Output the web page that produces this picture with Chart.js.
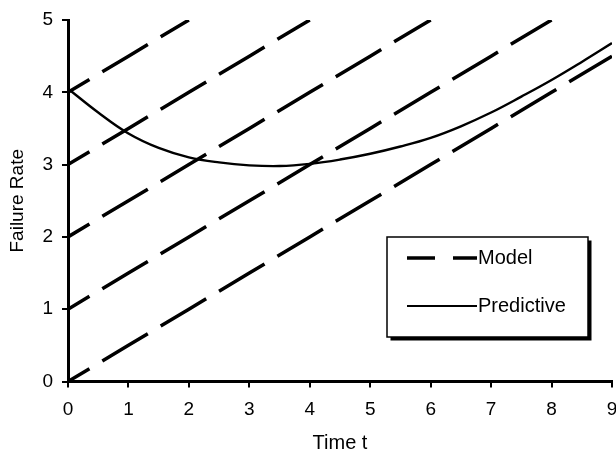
<!DOCTYPE html>
<html>
<head>
<meta charset="utf-8">
<script src="https://cdn.jsdelivr.net/npm/chart.js@4"></script>
<style>
  html, body { margin: 0; padding: 0; background: #fff; }
  #wrap { width: 616px; height: 457px; }
</style>
</head>
<body>
<div id="wrap"><canvas id="c" width="616" height="457"></canvas></div>
<script>
// Time axis and tick labels
const timeTicks = [0, 1, 2, 3, 4, 5, 6, 7, 8, 9];
const rateTicks = [0, 1, 2, 3, 4, 5];

// Model failure-rate lines, sampled at whole time units
const modelTime = [0, 1, 2, 3, 4, 5, 6, 7, 8, 9];
const modelA = [0, 0.5, 1, 1.5, 2, 2.5, 3, 3.5, 4, 4.5];
const modelB = [1, 1.5, 2, 2.5, 3, 3.5, 4, 4.5, 5];
const modelC = [2, 2.5, 3, 3.5, 4, 4.5, 5];
const modelD = [3, 3.5, 4, 4.5, 5];
const modelE = [4, 4.5, 5];

// Predictive failure rate
const predTime = [0, 0.5, 1, 1.5, 2, 2.5, 3, 3.5, 4, 4.5, 5, 5.5, 6, 6.5, 7, 7.5, 8, 8.5, 9];
const predRate = [4.05, 3.72, 3.43, 3.23, 3.10, 3.03, 2.99, 2.98, 3.01, 3.07, 3.15, 3.25, 3.37, 3.53, 3.72, 3.94, 4.17, 4.42, 4.68];

const legendLabels = ['Model', 'Predictive'];

const FONT = "'Liberation Sans', Arial, sans-serif";

function pts(xs, ys) { return ys.map((y, i) => ({ x: xs[i], y })); }

const modelStyle = {
  borderColor: '#000',
  borderWidth: 3.5,
  borderDash: [53, 15],
  borderDashOffset: 28,
  pointRadius: 0,
  tension: 0,
  fill: false
};

const datasets = [modelA, modelB, modelC, modelD, modelE].map(ys => Object.assign({
  label: legendLabels[0], data: pts(modelTime, ys)
}, modelStyle));

datasets.push({
  label: legendLabels[1],
  data: pts(predTime, predRate),
  borderColor: '#000',
  borderWidth: 2.4,
  pointRadius: 0,
  tension: 0.4,
  fill: false
});

// Boxed legend with a drop shadow, drawn inside the plot
const boxLegend = {
  id: 'boxLegend',
  afterDraw(chart) {
    const ctx = chart.ctx;
    const L = 387, T = 237, R = 588, B = 337;
    ctx.save();
    ctx.fillStyle = '#000';
    ctx.fillRect(L + 3.5, T + 3.5, R - L, B - T);
    ctx.fillStyle = '#fff';
    ctx.fillRect(L, T, R - L, B - T);
    ctx.strokeStyle = '#000';
    ctx.lineWidth = 1.5;
    ctx.strokeRect(L, T, R - L, B - T);

    const x0 = 407, x1 = 477;
    const y1 = 258, y2 = 306;
    ctx.lineWidth = 3.5;
    ctx.beginPath();
    ctx.moveTo(x0, y1); ctx.lineTo(435, y1);
    ctx.moveTo(453, y1); ctx.lineTo(x1, y1);
    ctx.stroke();
    ctx.lineWidth = 2.2;
    ctx.beginPath();
    ctx.moveTo(x0, y2); ctx.lineTo(x1, y2);
    ctx.stroke();

    ctx.fillStyle = '#000';
    ctx.font = '20px ' + FONT;
    ctx.textBaseline = 'middle';
    ctx.textAlign = 'left';
    ctx.fillText(legendLabels[0], x1 + 1, y1);
    ctx.fillText(legendLabels[1], x1 + 1, y2);
    ctx.restore();
  }
};

new Chart(document.getElementById('c'), {
  type: 'line',
  data: { datasets },
  plugins: [boxLegend],
  options: {
    responsive: false,
    animation: false,
    events: [],
    layout: { padding: { top: 20, right: 4, bottom: 0, left: 0 } },
    plugins: { legend: { display: false }, tooltip: { enabled: false } },
    scales: {
      x: {
        type: 'linear',
        min: 0, max: 9,
        afterBuildTicks(s) { s.ticks = timeTicks.map(v => ({ value: v })); },
        afterFit(s) { s.paddingLeft = 0; s.paddingRight = 0; s.height = 75.5; },
        ticks: { color: '#000', font: { family: FONT, size: 19 }, padding: 11, maxRotation: 0, autoSkip: false },
        grid: { display: true, drawOnChartArea: false, drawTicks: true, tickLength: 6, color: '#000', lineWidth: 2 },
        border: { display: true, color: '#000', width: 3 },
        title: { display: true, text: 'Time t', color: '#000', font: { family: FONT, size: 20 }, padding: { top: 0, bottom: 2 } }
      },
      y: {
        type: 'linear',
        min: 0, max: 5,
        afterBuildTicks(s) { s.ticks = rateTicks.map(v => ({ value: v })); },
        afterFit(s) { s.paddingTop = 0; s.paddingBottom = 0; s.width = 68; },
        ticks: { color: '#000', font: { family: FONT, size: 19 }, padding: 9, autoSkip: false },
        grid: { display: true, drawOnChartArea: false, drawTicks: true, tickLength: 6, color: '#000', lineWidth: 2 },
        border: { display: true, color: '#000', width: 3 },
        title: { display: true, text: 'Failure Rate', color: '#000', font: { family: FONT, size: 19 }, padding: { top: 6, bottom: 0 } }
      }
    }
  }
});
</script>
</body>
</html>
